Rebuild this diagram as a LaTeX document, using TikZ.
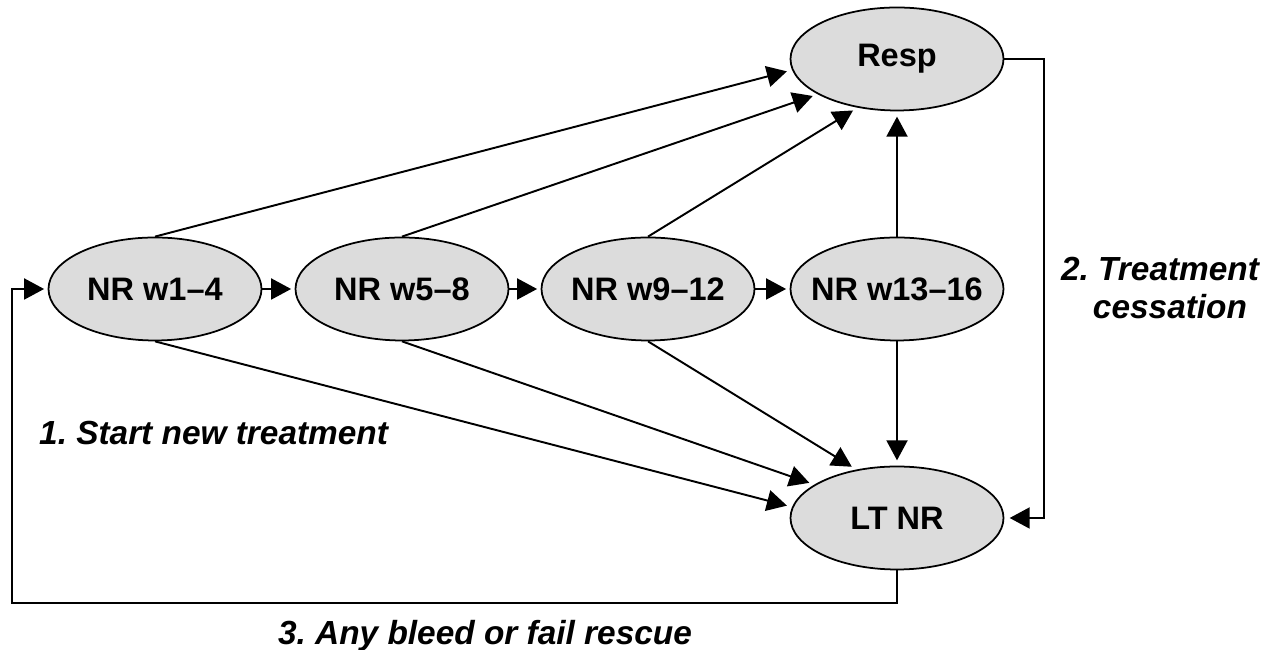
\documentclass[tikz,border=0pt]{standalone}
\usepackage{fontspec}
\setmainfont{Liberation Sans}
\frenchspacing
\usetikzlibrary{shapes.geometric,arrows.meta}
\definecolor{stategray}{RGB}{220,220,220}
\begin{document}
\begin{tikzpicture}[
        state/.style={ellipse,draw,fill=stategray,line width=1pt,
            minimum width=4.26cm,minimum height=2.06cm,
            inner xsep=-0.5cm,inner ysep=0pt,
            font=\fontsize{18.5}{21}\selectfont\bfseries},
        trans/.style={line width=1.1pt,
            -{Triangle[length=0.4cm,width=0.42cm]},shorten >=#1},
        trans/.default=3pt,
        caption/.style={font=\fontsize{19}{22}\selectfont\bfseries\itshape}
    ]
    \useasboundingbox (0,0) rectangle (25.46,13);
    % states
    \node[state] (w1)   at (3.10,7.22)  {NR w1–4};
    \node[state] (w5)   at (8.04,7.22)  {NR w5–8};
    \node[state] (w9)   at (12.96,7.22) {NR w9–12};
    \node[state] (w13)  at (17.94,7.22) {NR w13–16};
    \node[state] (resp) at (17.94,11.82) {Resp};
    \node[state] (ltnr) at (17.94,2.64) {LT NR};
    % weekly chain
    \draw[trans=2pt] (w1.east) -- (w5.west);
    \draw[trans=2pt] (w5.east) -- (w9.west);
    \draw[trans=2pt] (w9.east) -- (w13.west);
    % to response
    \draw[trans] (w1.north) -- (resp.186);
    \draw[trans] (w5.north) -- (resp.204);
    \draw[trans] (w9.north) -- (resp.231);
    \draw[trans] (w13.north) -- (resp.south);
    % to long-term non-response
    \draw[trans] (w1.south) -- (ltnr.174);
    \draw[trans] (w5.south) -- (ltnr.158);
    \draw[trans] (w9.south) -- (ltnr.130);
    \draw[trans] (w13.south) -- (ltnr.north);
    % feedback loops
    \coordinate (rc) at (20.88,11.82);
    \coordinate (bl) at (0.24,0.94);
    \draw[trans] (resp.east) -- (rc) |- (ltnr.east);
    \draw[trans=2pt] (ltnr.south) |- (bl) |- (w1.west);
    % labels
    \node[caption,anchor=base west] (start) at (0.66,4.10) {1. Start new treatment};
    \node[caption,align=center] (stop) at (23.2,7.24) {2. Treatment\\\hspace*{0.4cm}cessation};
    \node[caption,anchor=base] (bleed) at (9.70,0.10) {3. Any bleed or fail rescue};
\end{tikzpicture}
\end{document}
